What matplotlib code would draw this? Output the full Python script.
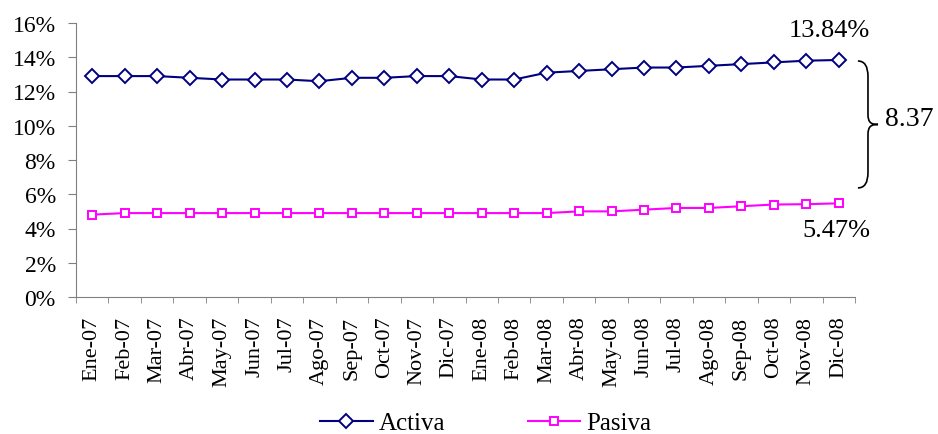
import matplotlib
matplotlib.use("Agg")
import matplotlib.pyplot as plt
from matplotlib.path import Path
from matplotlib.patches import PathPatch
from matplotlib.ticker import FuncFormatter

months = ["Ene-07", "Feb-07", "Mar-07", "Abr-07", "May-07", "Jun-07", "Jul-07", "Ago-07",
          "Sep-07", "Oct-07", "Nov-07", "Dic-07", "Ene-08", "Feb-08", "Mar-08", "Abr-08",
          "May-08", "Jun-08", "Jul-08", "Ago-08", "Sep-08", "Oct-08", "Nov-08", "Dic-08"]
activa = [12.9, 12.9, 12.9, 12.8, 12.7, 12.7, 12.7, 12.6, 12.8, 12.8, 12.9, 12.9,
          12.7, 12.7, 13.1, 13.2, 13.3, 13.4, 13.4, 13.5, 13.6, 13.7, 13.8, 13.84]
pasiva = [4.81, 4.9, 4.9, 4.9, 4.9, 4.9, 4.9, 4.9, 4.9, 4.9, 4.9, 4.9,
          4.9, 4.9, 4.9, 5.0, 5.0, 5.1, 5.2, 5.2, 5.3, 5.4, 5.42, 5.47]
spread_label = "8.37"

plt.rcParams['font.family'] = ['Liberation Serif', 'DejaVu Serif']

fig = plt.figure(figsize=(9.38, 4.35), dpi=100)
ax = fig.add_axes([76/938, 1-298/435, (855-76)/938, (298-24)/435])

x = list(range(len(months)))
ax.plot(x, activa, color="#000080", lw=1.5, marker="D", markersize=6.8,
        markerfacecolor="white", markeredgecolor="#000080", markeredgewidth=1.4, label="Activa")
ax.plot(x, pasiva, color="#FF00FF", lw=1.5, marker="s", markersize=6,
        markerfacecolor="white", markeredgecolor="#FF00FF", markeredgewidth=1.4, label="Pasiva")

ax.set_xlim(-0.5, len(months) - 0.5)
ax.set_ylim(0, 16)
ax.set_yticks(range(0, 17, 2))
ax.yaxis.set_major_formatter(FuncFormatter(lambda v, p: f"{int(v)}%"))
ax.set_xticks(x)
ax.set_xticklabels(months, rotation=90, fontsize=16)
ax.tick_params(axis='y', labelsize=17, length=5.5, color="#808080", pad=9)
ax.tick_params(axis='x', length=0, pad=13.5)
ax.set_xticks([i - 0.5 for i in range(len(months) + 1)], minor=True)
ax.tick_params(axis='x', which='minor', length=4, color="#808080")
for s in ["top", "right"]:
    ax.spines[s].set_visible(False)
for s in ["left", "bottom"]:
    ax.spines[s].set_color("#808080")

last = len(months) - 1
ax.annotate(f"{activa[-1]:.2f}%", xy=(last, activa[-1]), xytext=(-7, 14),
            textcoords="offset points", ha="center", va="bottom", fontsize=19, annotation_clip=False)
ax.annotate(f"{pasiva[-1]:.2f}%", xy=(last, pasiva[-1]), xytext=(-2, -11),
            textcoords="offset points", ha="center", va="top", fontsize=19, annotation_clip=False)

# curly brace between the two final values
x0 = last + 0.59
w = 0.31
tip = 0.62
y_top = activa[-1] - 0.06
y_bot = pasiva[-1] + 0.9
y_mid = (y_top + y_bot) / 2
verts = [(x0, y_top), (x0 + w, y_top), (x0 + w, y_top - 0.9),
         (x0 + w, y_mid + 0.6),
         (x0 + w, y_mid + 0.1), (x0 + w + 0.1, y_mid), (x0 + tip, y_mid),
         (x0 + w + 0.1, y_mid), (x0 + w, y_mid - 0.1), (x0 + w, y_mid - 0.6),
         (x0 + w, y_bot + 0.9),
         (x0 + w, y_bot), (x0, y_bot)]
codes = [Path.MOVETO, Path.CURVE3, Path.CURVE3,
         Path.LINETO,
         Path.CURVE4, Path.CURVE4, Path.CURVE4,
         Path.CURVE4, Path.CURVE4, Path.CURVE4,
         Path.LINETO,
         Path.CURVE3, Path.CURVE3]
patch = PathPatch(Path(verts, codes), fill=False, lw=1.2, color="black", clip_on=False,
                  transform=ax.transData)
ax.add_patch(patch)
ax.text(x0 + tip + 0.2, y_mid + 0.35, spread_label, ha="left", va="center", fontsize=20, clip_on=False)

fig.legend(loc="center", bbox_to_anchor=(0.518, 1 - 424/435), ncol=2, frameon=False,
           fontsize=18, handlelength=2.1, columnspacing=3.3, handletextpad=0.25)

fig.savefig("out.png", dpi=100)
